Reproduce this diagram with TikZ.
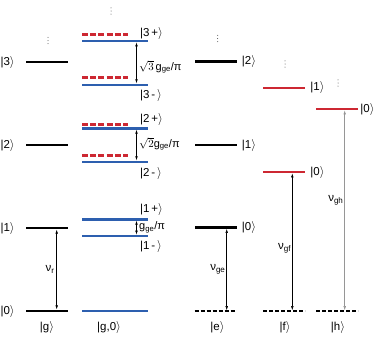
\documentclass[tikz,border=0pt]{standalone}
\usepackage{fontspec}
\setmainfont{Liberation Sans}
\usetikzlibrary{arrows.meta, positioning}
\definecolor{levblue}{RGB}{45,95,175}
\definecolor{levred}{RGB}{205,40,50}
\definecolor{arrgray}{RGB}{150,150,150}
\newcommand{\ket}[1]{|#1\(\rangle\)}

\begin{document}
\begin{tikzpicture}[
  x=1pt, y=-1pt,
  lvl/.style={rectangle, inner sep=0pt, minimum height=2.8pt,
              minimum width=42pt, fill=black},
  bluelvl/.style={lvl, fill=levblue, minimum height=2.4pt, minimum width=66pt},
  redlvl/.style={lvl, fill=levred, minimum height=2.4pt},
  reddash/.style={rectangle, inner sep=0pt, minimum height=2.4pt, minimum width=46pt,
              path picture={\draw[levred, line width=3pt, dash pattern=on 6pt off 2.2pt]
              (path picture bounding box.west) -- (path picture bounding box.east);}},
  gnddash/.style={rectangle, inner sep=0pt, minimum height=1.2pt, minimum width=42pt,
              path picture={\draw[black, line width=2pt, dash pattern=on 4pt off 2pt]
              (path picture bounding box.west) -- (path picture bounding box.east);}},
  ket/.style={inner sep=1pt, font=\fontsize{11.5}{13}\selectfont},
  cpl/.style={inner sep=1pt, anchor=west, font=\fontsize{11}{13}\selectfont},
  arrow/.style={{Latex[length=4pt,width=2.6pt]}-{Latex[length=4pt,width=2.6pt]},
              line width=0.5pt}
]
\useasboundingbox (0,0) rectangle (374,343);

% resonator |g>
\node[lvl] (g0) at (47,311) {};
\node[lvl] (g1) at (47,228) {};
\node[lvl] (g2) at (47,145) {};
\node[lvl] (g3) at (47,62) {};

% dressed |g,0>
\node[bluelvl] (b0) at (115,311) {};
\node[bluelvl] (b1m) at (115,236) {};
\node[bluelvl] (b1p) at (115,219.3) {};
\node[bluelvl] (b2m) at (115,161.7) {};
\node[bluelvl] (b2p) at (115,128.3) {};
\node[bluelvl] (b3m) at (115,84.7) {};
\node[bluelvl] (b3p) at (115,41) {};
\node[reddash] (r2m) at (105,155.7) {};
\node[reddash] (r2p) at (105,124.3) {};
\node[reddash] (r3m) at (105,77) {};
\node[reddash] (r3p) at (105,34.3) {};

% |e>
\node[gnddash] (eg) at (215.5,311) {};
\node[lvl] (e0) at (215.5,227.3) {};
\node[lvl] (e1) at (215.5,145) {};
\node[lvl] (e2) at (215.5,61.7) {};

% |f>
\node[gnddash] (fg) at (284,311) {};
\node[redlvl] (f0) at (284,172) {};
\node[redlvl] (f1) at (284,87.7) {};

% |h>
\node[gnddash] (hg) at (337,311) {};
\node[redlvl] (h0) at (337,109) {};

% level labels
\node[ket, left=10pt of g0] (lg0) {\ket{0}};
\node[ket, left=10pt of g1] (lg1) {\ket{1}};
\node[ket, left=10pt of g2] (lg2) {\ket{2}};
\node[ket, left=10pt of g3] (lg3) {\ket{3}};
\node[ket, anchor=west] (lb3p) at (139,33) {\ket{3\,+}};
\node[ket, anchor=west] (lb3m) at (139,95) {\ket{3\,-\,}};
\node[ket, anchor=west] (lb2p) at (139,119) {\ket{2\,+}};
\node[ket, anchor=west] (lb2m) at (139,173) {\ket{2\,-\,}};
\node[ket, anchor=west] (lb1p) at (139,209.5) {\ket{1\,+}};
\node[ket, anchor=west] (lb1m) at (139,246) {\ket{1\,-\,}};
\node[ket, right=4pt of e0] (le0) {\ket{0}};
\node[ket, right=4pt of e1] (le1) {\ket{1}};
\node[ket, right=4pt of e2] (le2) {\ket{2}};
\node[ket, right=4pt of f0] (lf0) {\ket{0}};
\node[ket, right=4pt of f1] (lf1) {\ket{1}};
\node[ket, right=1pt of h0] (lh0) {\ket{0}};

% column labels
\node[ket, below=8pt of g0] (cg) {\ket{g}};
\node[ket, below=8pt of b0, xshift=-6pt] (cb) {\ket{g,0}};
\node[ket, below=8pt of eg, xshift=2pt] (ce) {\ket{e}};
\node[ket, below=8pt of fg, xshift=1pt] (cf) {\ket{f}};
\node[ket, below=8pt of hg, xshift=1pt] (ch) {\ket{h}};

% more levels
\coordinate (dg) at (48,40.5);
\coordinate (db) at (111,11);
\coordinate (de) at (217.7,38.5);
\coordinate (df) at (285,64);
\coordinate (dh) at (338,83);
\foreach \c in {dg,db,de,df,dh}
  \foreach \s in {-3.2,0,3.2}
    \fill[black!70] ([yshift=\s pt]\c) circle (0.5pt);

% couplings
\draw[arrow] ([xshift=21.5pt]b3p.south) -- ([xshift=21.5pt]b3m.north);
\draw[arrow] ([xshift=21.5pt]b2p.south) -- ([xshift=21.5pt]b2m.north);
\draw[arrow] ([xshift=21.5pt]b1p.south) -- ([xshift=21.5pt]b1m.north);
\node[cpl] (k3) at (138,67) {\(\sqrt{3}\)\,g\textsubscript{ge}/π};
\node[cpl] (k2) at (138,144) {\(\sqrt{2}\)g\textsubscript{ge}/π};
\node[cpl] (k1) at (138,227.5) {g\textsubscript{ge}/π};

% transitions
\draw[arrow] ([xshift=9.7pt]g1.south) -- ([xshift=9.7pt]g0.north)
  node[midway, left=1pt, ket] (nr) {ν\textsubscript{r}};
\draw[arrow] ([xshift=11.2pt]e0.south) -- ([xshift=11.2pt]eg.north)
  node[midway, left=0pt, ket] (nge) {ν\textsubscript{ge}};
\draw[arrow] ([xshift=8.3pt]f0.south) -- ([xshift=8.3pt]fg.north)
  node[pos=0.55, left=0pt, ket] (ngf) {ν\textsubscript{gf}};
\draw[arrow, arrgray] ([xshift=7.7pt]h0.south) -- ([xshift=7.7pt]hg.north)
  node[pos=0.45, left=0pt, ket, black] (ngh) {ν\textsubscript{gh}};

\end{tikzpicture}
\end{document}
